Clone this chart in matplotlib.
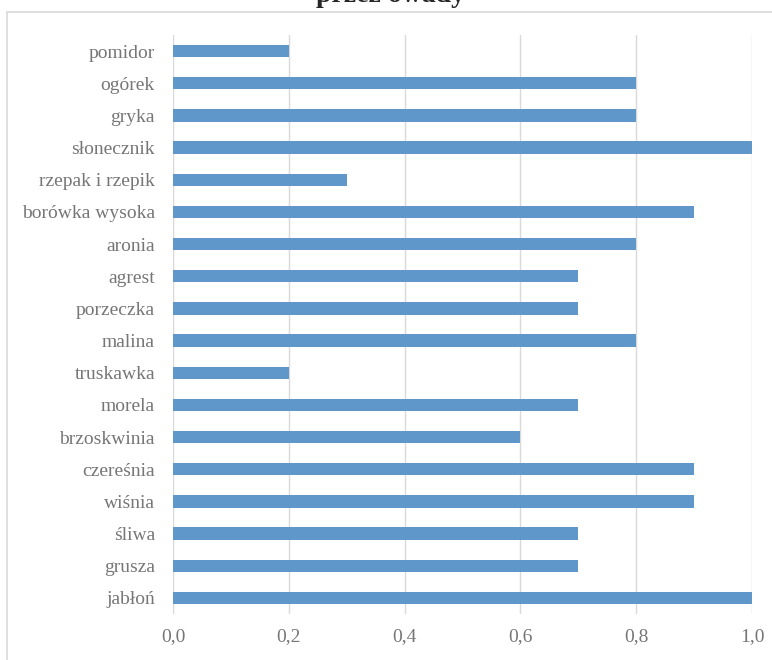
import matplotlib
matplotlib.use("Agg")
import matplotlib.pyplot as plt
from matplotlib.patches import Rectangle

categories = ["pomidor", "ogórek", "gryka", "słonecznik", "rzepak i rzepik",
              "borówka wysoka", "aronia", "agrest", "porzeczka", "malina",
              "truskawka", "morela", "brzoskwinia", "czereśnia", "wiśnia",
              "śliwa", "grusza", "jabłoń"]
values = [0.2, 0.8, 0.8, 1.0, 0.3, 0.9, 0.8, 0.7, 0.7, 0.8,
          0.2, 0.7, 0.6, 0.9, 0.9, 0.7, 0.7, 1.0]
xticks = [0.0, 0.2, 0.4, 0.6, 0.8, 1.0]
xtick_labels = ["0,0", "0,2", "0,4", "0,6", "0,8", "1,0"]
title_text = "przez owady"

plt.rcParams['font.family'] = ['Liberation Serif', 'DejaVu Serif']

W, H = 772, 660
fig = plt.figure(figsize=(W / 100, H / 100), dpi=100)

# chart border
fig.patches.append(Rectangle((7 / W, -0.05), 1.0, 1 - 12 / H + 0.05,
                             transform=fig.transFigure, fill=False,
                             edgecolor="#D9D9D9", linewidth=1.2))

ax = fig.add_axes([173 / W, 46 / H, 579 / W, 579 / H])
y = list(range(len(categories)))
ax.barh(y, values, height=0.38, color="#5F97CB", zorder=3)
ax.set_ylim(len(categories) - 0.5, -0.5)
ax.set_xlim(0, 1.0)
ax.set_yticks(y)
ax.set_yticklabels(categories)
ax.set_xticks(xticks)
ax.set_xticklabels(xtick_labels)
ax.grid(axis="x", color="#D9D9D9", linewidth=1.0, zorder=0)
for s in ax.spines.values():
    s.set_visible(False)
ax.tick_params(axis="both", length=0, labelsize=14, labelcolor="#767676")
ax.tick_params(axis="x", pad=10)
ax.tick_params(axis="y", pad=13)

fig.text(390 / W, 1 - 2 / H, title_text, ha="center", va="baseline",
         fontsize=20, fontweight="bold", color="#262626")

fig.savefig("out.png", dpi=100)
